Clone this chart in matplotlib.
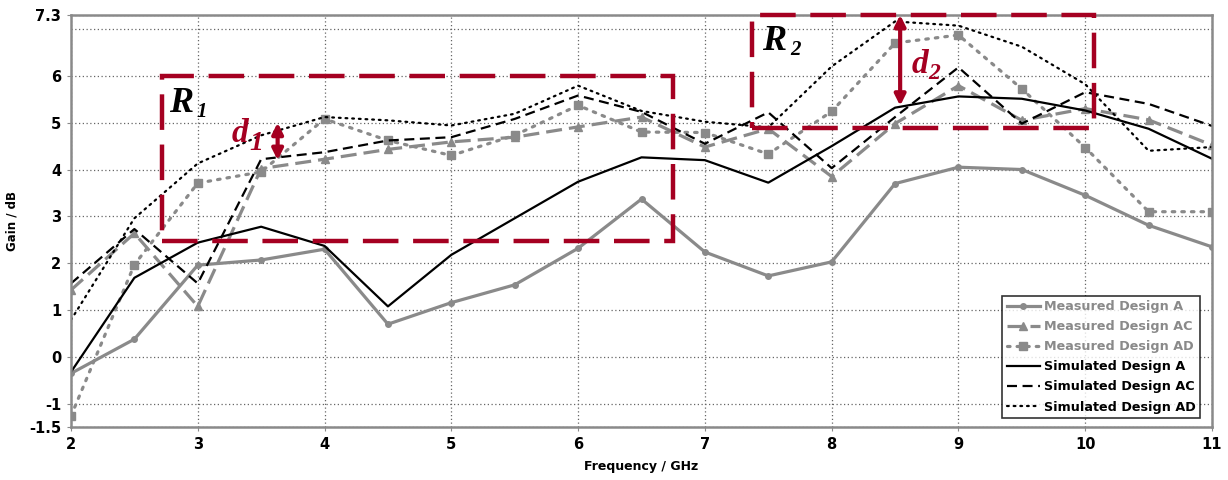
import matplotlib.pyplot as plt
from matplotlib.patches import Rectangle

# Frequency points (GHz)
freq = [2, 2.5, 3, 3.5, 4, 4.5, 5, 5.5, 6, 6.5, 7, 7.5, 8, 8.5, 9, 9.5, 10, 10.5, 11]

# Gain values (dB)
meas_a = [-0.35, 0.38, 1.96, 2.07, 2.3, 0.7, 1.16, 1.54, 2.32, 3.37, 2.24, 1.73, 2.03,
          3.7, 4.05, 4.0, 3.45, 2.81, 2.35]
meas_ac = [1.43, 2.64, 1.08, 4.02, 4.22, 4.43, 4.59, 4.69, 4.91, 5.12, 4.48, 4.87, 3.85,
           4.98, 5.79, 5.05, 5.3, 5.06, 4.52]
meas_ad = [-1.26, 1.97, 3.71, 3.95, 5.08, 4.62, 4.3, 4.73, 5.37, 4.8, 4.79, 4.33, 5.24,
           6.7, 6.87, 5.72, 4.47, 3.1, 3.1]
sim_a = [-0.32, 1.69, 2.44, 2.78, 2.37, 1.08, 2.18, 2.96, 3.74, 4.26, 4.2, 3.72, 4.5,
         5.32, 5.56, 5.51, 5.26, 4.87, 4.23]
sim_ac = [1.57, 2.73, 1.57, 4.22, 4.37, 4.62, 4.69, 5.08, 5.58, 5.23, 4.55, 5.22, 4.03,
          5.12, 6.18, 4.98, 5.65, 5.4, 4.93]
sim_ad = [0.79, 2.96, 4.13, 4.73, 5.12, 5.05, 4.94, 5.19, 5.79, 5.25, 5.02, 4.9, 6.2,
          7.16, 7.07, 6.62, 5.82, 4.4, 4.48]

labels = ["Measured Design A", "Measured Design AC", "Measured Design AD",
          "Simulated Design A", "Simulated Design AC", "Simulated Design AD"]

yticks = [-1.5, -1, 0, 1, 2, 3, 4, 5, 6, 7.3]
xticks = [2, 3, 4, 5, 6, 7, 8, 9, 10, 11]

gray = "#8a8a8a"
red = "#a50021"

fig = plt.figure(figsize=(12.28, 4.8), dpi=100)
ax = fig.add_axes([0.0578, 0.1098, 0.9292, 0.8592])

ax.plot(freq, meas_a, color=gray, lw=2.3, marker="o", ms=4, label=labels[0])
ax.plot(freq, meas_ac, color=gray, lw=2.3, ls=(0, (5, 2.2)), marker="^", ms=6,
        label=labels[1])
ax.plot(freq, meas_ad, color=gray, lw=2.3, ls=(0, (0.8, 2.2)), dash_capstyle="round",
        marker="s", ms=6, label=labels[2])
ax.plot(freq, sim_a, color="black", lw=1.6, label=labels[3])
ax.plot(freq, sim_ac, color="black", lw=1.6, ls=(0, (4.5, 2.5)), label=labels[4])
ax.plot(freq, sim_ad, color="black", lw=1.6, ls=(0, (0.8, 2.2)), dash_capstyle="round",
        label=labels[5])

ax.set_xlim(2, 11)
ax.set_ylim(-1.5, 7.3)
ax.set_xticks(xticks)
ax.set_yticks(yticks)
ax.set_xticklabels([str(t) for t in xticks], fontweight="bold", fontsize=10.5)
ax.set_yticklabels([str(t) for t in yticks], fontweight="bold", fontsize=10.5)
ax.tick_params(length=3, color=gray, pad=4)

ax.grid(True, ls=(0, (1, 2)), color="#666666", lw=0.9)
ax.axhline(7, ls=(0, (1, 2)), color="#666666", lw=0.9, zorder=0.5)
ax.set_axisbelow(True)
for s in ax.spines.values():
    s.set_color(gray)
    s.set_linewidth(1.8)

ax.set_xlabel("Frequency / GHz", fontweight="bold", fontsize=9, labelpad=6)
ax.set_ylabel("Gain / dB", fontweight="bold", fontsize=8.5, labelpad=8)

# Legend with gray text for measured series
leg = ax.legend(loc="lower right", bbox_to_anchor=(0.9895, 0.0226), borderaxespad=0,
                prop={"weight": "bold", "size": 9.2}, frameon=True, fancybox=False,
                handlelength=2.6, labelspacing=0.55, handletextpad=0.3,
                borderpad=0.35)
leg.get_frame().set_edgecolor("black")
leg.get_frame().set_linewidth(1.2)
for i, t in enumerate(leg.get_texts()):
    if i < 3:
        t.set_color(gray)

# Highlight regions
box_style = dict(fill=False, edgecolor=red, lw=3.2, ls=(0, (8, 3.3)), clip_on=False,
                 zorder=5)
ax.add_patch(Rectangle((2.72, 2.48), 6.75 - 2.72, 6.0 - 2.48, **box_style))
ax.add_patch(Rectangle((7.37, 4.88), 10.07 - 7.37, 7.3 - 4.88, **box_style))

arrow = dict(arrowstyle="<|-|>", color=red, lw=3, mutation_scale=16, shrinkA=0,
             shrinkB=0)
ax.annotate("", xy=(3.63, 5.0), xytext=(3.63, 4.2), arrowprops=arrow, zorder=6)
ax.annotate("", xy=(8.54, 7.3), xytext=(8.54, 5.36), arrowprops=arrow, zorder=6)

serif = "Liberation Serif"
txt = dict(family=serif, weight="bold", style="italic", zorder=7)
ax.text(2.77, 5.22, "R", fontsize=26, color="black", **txt)
ax.text(2.99, 5.13, "1", fontsize=15, color="black", **txt)
ax.text(7.45, 6.54, "R", fontsize=26, color="black", **txt)
ax.text(7.67, 6.45, "2", fontsize=15, color="black", **txt)
ax.text(3.27, 4.58, "d", fontsize=24, color=red, **txt)
ax.text(3.41, 4.41, "1", fontsize=20, color=red, **txt)
ax.text(8.63, 6.07, "d", fontsize=24, color=red, **txt)
ax.text(8.76, 5.93, "2", fontsize=17, color=red, **txt)

fig.savefig("out.png", dpi=100)
